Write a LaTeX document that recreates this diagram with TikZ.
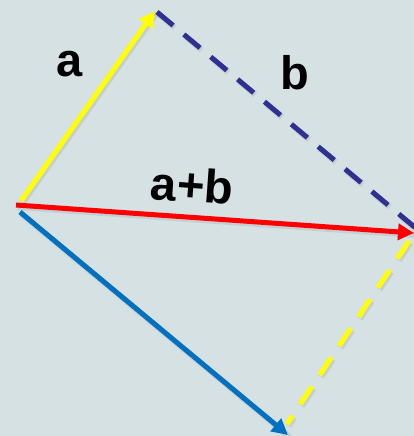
\documentclass[tikz,border=0pt]{standalone}
\usepackage{fontspec}
\setmainfont{Liberation Sans}
\usetikzlibrary{arrows.meta}
\definecolor{bgc}{HTML}{D6E1E4}
\definecolor{vyel}{HTML}{FFFF00}
\definecolor{vred}{HTML}{FF0000}
\definecolor{vblue}{HTML}{0070C0}
\definecolor{vdark}{HTML}{2E3192}
\tikzset{
  vec/.style={line width=5pt, -{Triangle[length=16pt,width=16pt]}},
  dpat/.style={dash pattern=on 21pt off 14pt},
  dvec/.style={line width=5pt, dpat},
  shadowline/.style={line width=6pt, black, opacity=0.08, transform canvas={shift={(1.5pt,-2pt)}}},
  lbl/.style={font=\bfseries\fontsize{47}{47}\selectfont, inner sep=0pt, anchor=base west}
}
\begin{document}
\begin{tikzpicture}[x=1pt,y=-1pt]
\fill[bgc] (0,0) rectangle (414,436);
\useasboundingbox (0,0) rectangle (414,436);
% points
\coordinate (oa) at (21,201);
\coordinate (orr) at (16,205);
\coordinate (ob) at (20,212);
\coordinate (A) at (155,11);
\coordinate (R) at (414,233);
\coordinate (B) at (288,435);
\coordinate (Ad) at (157,12);
\coordinate (Rd) at (418,230);
\coordinate (Ry) at (409,241);
\coordinate (By) at (287,424);
% shadows
\draw[shadowline, dpat] (Ad) -- (Rd);
\draw[shadowline, dpat] (Ry) -- (By);
\draw[shadowline] (oa) -- (A);
\draw[shadowline] (orr) -- (R);
\draw[shadowline] (ob) -- (B);
% dashed sides
\draw[dvec, vdark] (Ad) -- (Rd);
\draw[dvec, vyel] (Ry) -- (By);
% vectors
\draw[vec, vyel] (oa) -- (A);
\draw[vec, vblue] (ob) -- (B);
\draw[vec, vred] (orr) -- (R);
% labels
\node[lbl] (la) at (56,77) {a};
\node[lbl] (lb) at (280,89) {b};
\node[lbl, anchor=base, rotate=-4] (lab) at (191,202) {a+b};
\end{tikzpicture}
\end{document}
